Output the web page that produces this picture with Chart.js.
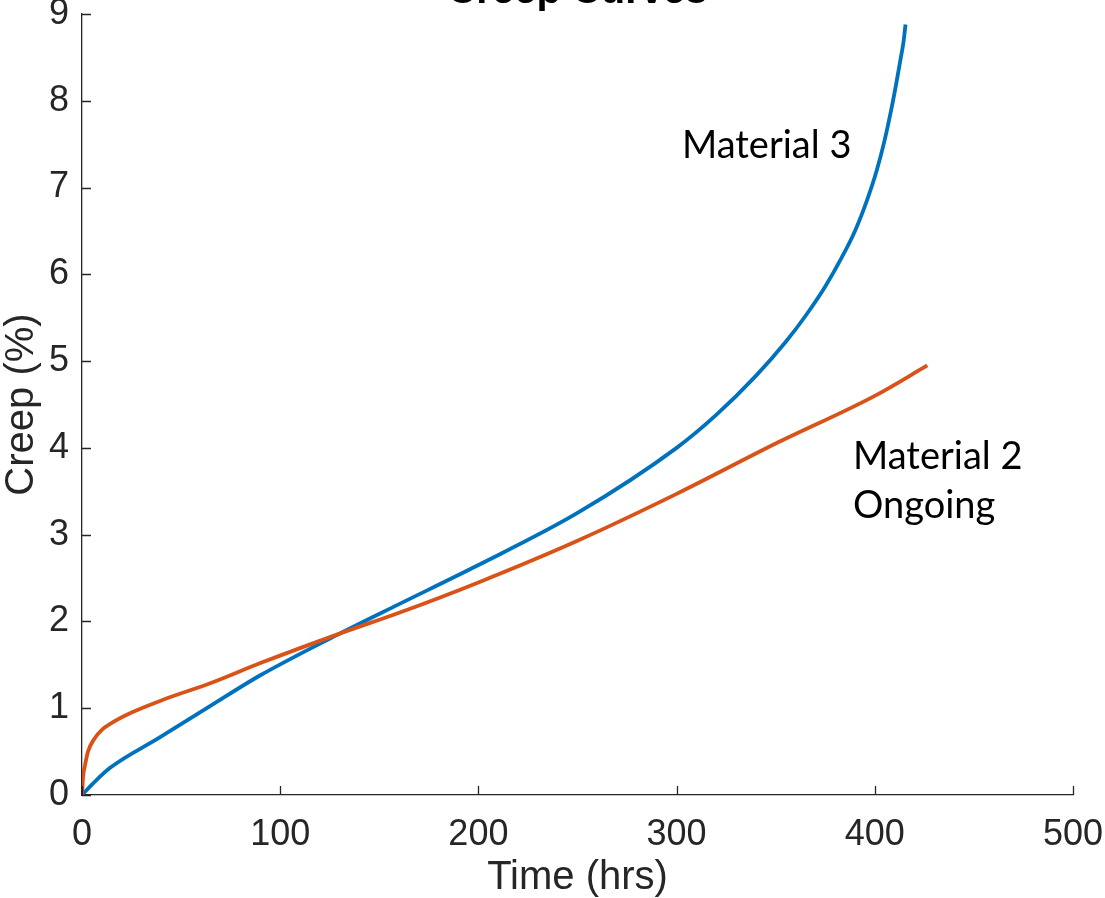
<!DOCTYPE html>
<html>
<head>
<meta charset="utf-8">
<title>Creep Curves</title>
<script src="https://cdn.jsdelivr.net/npm/chart.js@4.4.1/dist/chart.umd.min.js"></script>
<style>
  html, body { margin: 0; padding: 0; background: #fff; overflow: hidden; }
  body { width: 1105px; height: 898px; position: relative; }
  #wrap { position: absolute; left: 0; top: -36px; width: 1105px; height: 934px; }
</style>
</head>
<body>
<div id="wrap"><canvas id="chart"></canvas></div>
<script>
// Material 3: time (hrs) and creep (%)
const material3Time  = [0, 5, 14, 39, 65, 90, 130, 160, 200, 250, 300, 320, 340, 355, 365, 375, 383, 390, 396, 401, 405, 408.5, 411, 413, 414.5, 415.5];
const material3Creep = [0, 0.12, 0.31, 0.66, 1.03, 1.38, 1.86, 2.2, 2.65, 3.25, 4.0, 4.38, 4.83, 5.22, 5.52, 5.86, 6.18, 6.5, 6.85, 7.2, 7.55, 7.92, 8.22, 8.48, 8.68, 8.88];

// Material 2 (test still running): time (hrs) and creep (%)
const material2Time  = [0, 0.5, 1.5, 3, 6, 10, 15, 25, 40, 65, 90, 130, 160, 200, 250, 300, 350, 400, 426.5];
const material2Creep = [0, 0.2, 0.34, 0.5, 0.64, 0.75, 0.83, 0.95, 1.09, 1.29, 1.52, 1.86, 2.1, 2.45, 2.93, 3.47, 4.05, 4.6, 4.95];

const xTicks = [0, 100, 200, 300, 400, 500];
const yTicks = [0, 1, 2, 3, 4, 5, 6, 7, 8, 9];

const chartTitle = 'Creep Curves';

const toPoints = (xs, ys) => xs.map((x, i) => ({ x: x, y: ys[i] }));

const AXIS_COLOR = '#262626';
const BLUE = '#0072BD';
const ORANGE = '#D95319';
const SANS = '"Liberation Sans", Arial, sans-serif';

// Text notes placed in data coordinates (x in hrs, y = baseline in %)
const notes = [
  { text: 'Material 3', x: 302.7, y: 7.34 },
  { text: 'Material 2', x: 389, y: 3.76 },
  { text: 'Ongoing',    x: 389, y: 3.19 }
];

// Inward-facing tick marks along the left and bottom axes
const inwardTicks = {
  id: 'inwardTicks',
  afterDatasetsDraw(chart) {
    const { ctx, scales: { x, y } } = chart;
    const len = 9;
    ctx.save();
    ctx.strokeStyle = AXIS_COLOR;
    ctx.lineWidth = 1.3;
    ctx.beginPath();
    xTicks.forEach(v => {
      const px = Math.round(x.getPixelForValue(v)) + 0.5;
      ctx.moveTo(px, y.bottom);
      ctx.lineTo(px, y.bottom - len);
    });
    yTicks.forEach(v => {
      const py = Math.round(y.getPixelForValue(v)) + 0.5;
      ctx.moveTo(x.left, py);
      ctx.lineTo(x.left + len, py);
    });
    ctx.stroke();
    ctx.restore();
  }
};

// Title centred over the axes, plus free text notes next to the curves
const annotations = {
  id: 'annotations',
  afterDraw(chart) {
    const { ctx, chartArea, scales: { x, y } } = chart;
    ctx.save();
    ctx.fillStyle = '#000';
    ctx.font = 'bold 40px ' + SANS;
    ctx.textAlign = 'center';
    ctx.textBaseline = 'alphabetic';
    ctx.fillText(chartTitle, (chartArea.left + chartArea.right) / 2, chartArea.top - 11);

    ctx.font = '38px Lato, "Open Sans", sans-serif';
    ctx.textAlign = 'left';
    notes.forEach(n => {
      ctx.fillText(n.text, x.getPixelForValue(n.x), y.getPixelForValue(n.y));
    });
    ctx.restore();
  }
};

new Chart(document.getElementById('chart'), {
  type: 'scatter',
  data: {
    datasets: [
      {
        label: 'Material 2',
        data: toPoints(material2Time, material2Creep),
        showLine: true,
        borderColor: ORANGE,
        backgroundColor: ORANGE,
        borderWidth: 3.8,
        pointRadius: 0,
        cubicInterpolationMode: 'monotone',
        order: 0
      },
      {
        label: 'Material 3',
        data: toPoints(material3Time, material3Creep),
        showLine: true,
        borderColor: BLUE,
        backgroundColor: BLUE,
        borderWidth: 3.8,
        pointRadius: 0,
        cubicInterpolationMode: 'monotone',
        order: 1
      }
    ]
  },
  options: {
    responsive: true,
    maintainAspectRatio: false,
    animation: false,
    events: [],
    layout: { padding: { left: 0, right: 32, top: 50, bottom: 0 } },
    plugins: {
      legend: { display: false },
      tooltip: { enabled: false },
      title: { display: false }
    },
    scales: {
      x: {
        type: 'linear',
        min: 0,
        max: 500,
        afterBuildTicks(scale) { scale.ticks = xTicks.map(v => ({ value: v })); },
        afterFit(scale) {
          scale.height = 103;
          scale.paddingRight = 0;
          scale.paddingLeft = 0;
        },
        border: { display: true, color: AXIS_COLOR, width: 1.3 },
        grid: { drawOnChartArea: false, drawTicks: false },
        ticks: {
          color: AXIS_COLOR,
          padding: 18,
          maxRotation: 0,
          font: { family: SANS, size: 36 }
        },
        title: {
          display: true,
          text: 'Time (hrs)',
          color: AXIS_COLOR,
          font: { family: SANS, size: 40, lineHeight: 1 },
          padding: { top: 0, bottom: 0 }
        }
      },
      y: {
        type: 'linear',
        min: 0,
        max: 9,
        afterBuildTicks(scale) { scale.ticks = yTicks.map(v => ({ value: v })); },
        afterFit(scale) {
          scale.width = 82;
          scale.paddingTop = 0;
          scale.paddingBottom = 0;
        },
        border: { display: true, color: AXIS_COLOR, width: 1.3 },
        grid: { drawOnChartArea: false, drawTicks: false },
        ticks: {
          color: AXIS_COLOR,
          padding: 13,
          font: { family: SANS, size: 36 }
        },
        title: {
          display: true,
          text: 'Creep (%)',
          color: AXIS_COLOR,
          font: { family: SANS, size: 40, lineHeight: 1 },
          padding: { top: 2, bottom: 0 }
        }
      }
    }
  },
  plugins: [inwardTicks, annotations]
});
</script>
</body>
</html>
